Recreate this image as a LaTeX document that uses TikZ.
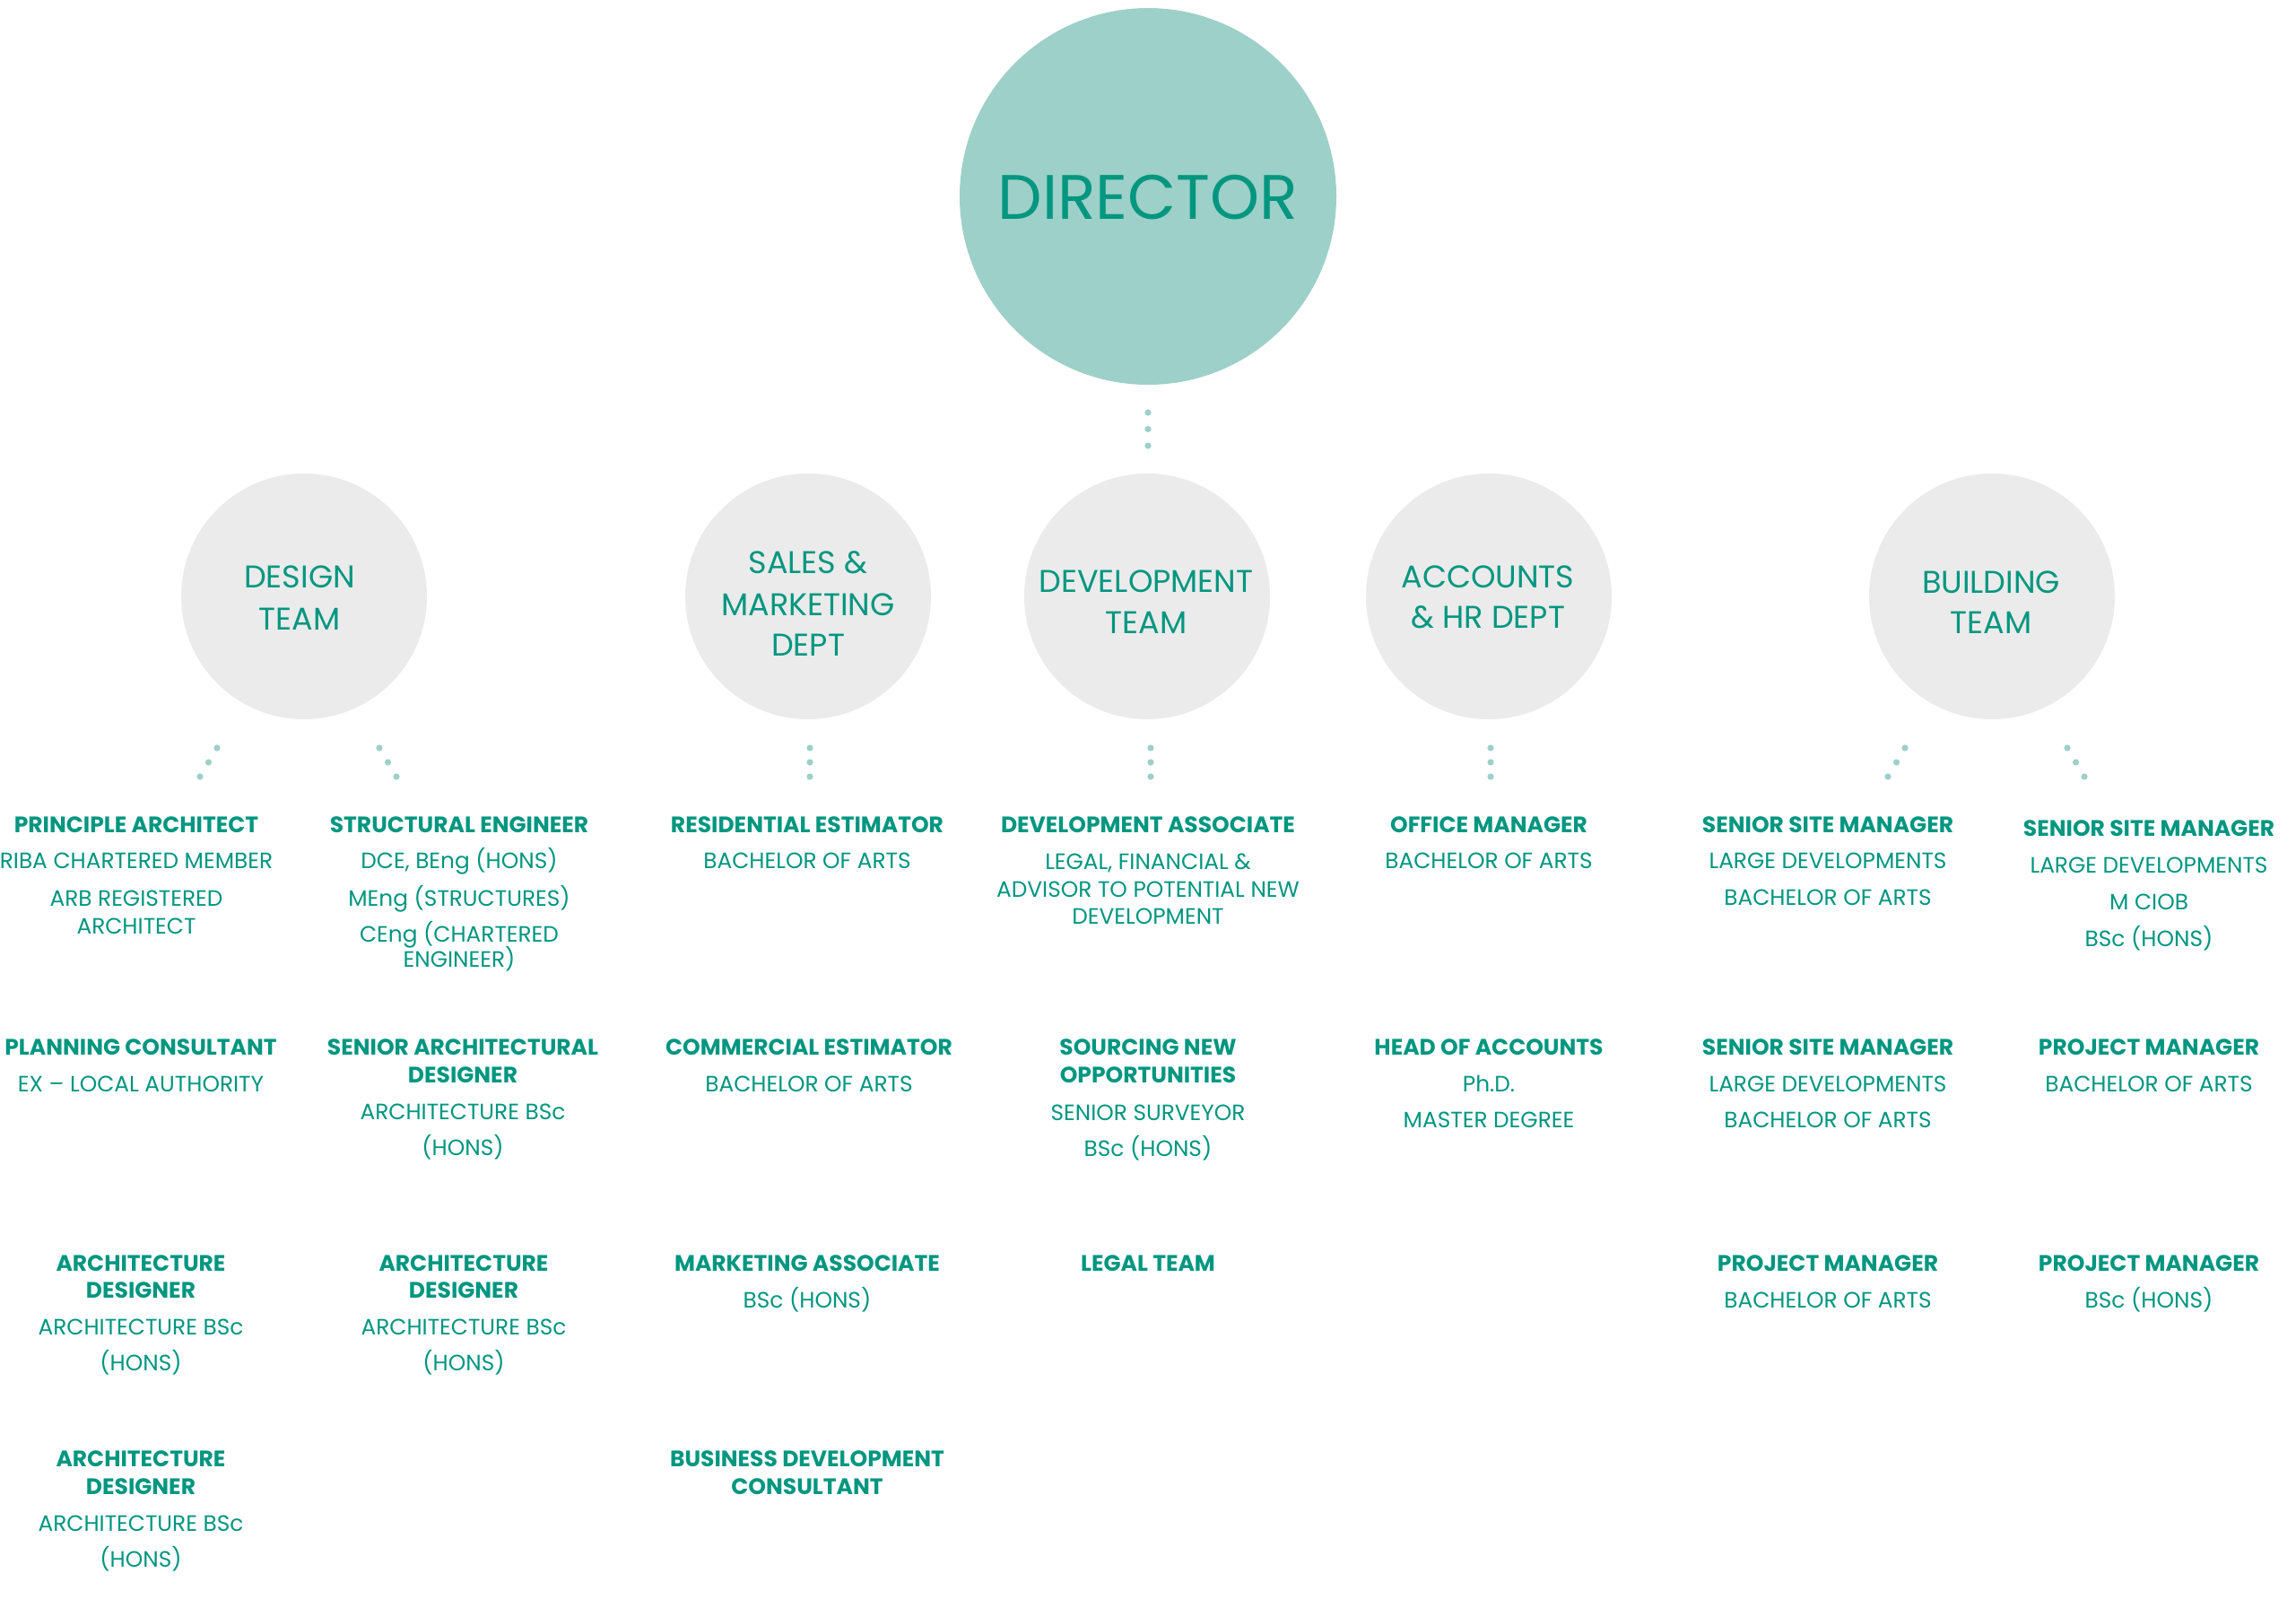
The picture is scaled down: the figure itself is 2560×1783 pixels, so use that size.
\documentclass[tikz,border=0pt]{standalone}
\usepackage{fontspec}
\setmainfont{Poppins}
\usetikzlibrary{calc}
\definecolor{teal}{RGB}{0,150,128}
\definecolor{dirfill}{RGB}{157,208,200}
\definecolor{grfill}{RGB}{235,235,235}
\definecolor{dotc}{RGB}{157,208,200}
\tikzset{
  ttl/.style={anchor=base, inner sep=0pt, text=teal, font=\fontsize{25}{30}\selectfont\bfseries},
  sub/.style={anchor=base, inner sep=0pt, text=teal, font=\fontsize{24.8}{28}\selectfont},
  ctx/.style={anchor=base, inner sep=0pt, text=teal, font=\fontsize{35}{40}\selectfont},
  dirtx/.style={anchor=base, inner sep=0pt, text=teal, font=\fontsize{70}{80}\selectfont},
  dept/.style={circle, fill=grfill, minimum size=274pt, inner sep=0pt},
  dotdot/.style={fill=dotc}
}
\newcommand\mkttl[4]{\node[ttl] (#1) at (#2,#3) {#4};}
\newcommand\mksub[4]{\node[sub] (#1) at (#2,#3) {#4};}
\newcommand\mkdots[2]{\foreach \t in {0,0.5,1} \fill[dotdot] ($(#1)!\t!(#2)$) circle (3.6pt);}
\begin{document}
\begin{tikzpicture}[x=1pt,y=-1pt]
\fill[white] (0,0) rectangle (2560,1783);
\useasboundingbox (0,0) rectangle (2560,1783);
% director
\node[circle, fill=dirfill, minimum size=420pt, inner sep=0pt] (dir) at (1280,219) {};
\node[dirtx] (dirt) at (1280,244) {DIRECTOR};
% departments
\node[dept] (design) at (339,665) {};
\node[dept] (sales) at (901,665) {};
\node[dept] (devel) at (1279,665) {};
\node[dept] (acc) at (1660,665) {};
\node[dept] (build) at (2221,665) {};
\node[ctx] (design1) at (334,655) {DESIGN};
\node[ctx] (design2) at (334,702) {TEAM};
\node[ctx] (sales1) at (901,639) {SALES \&};
\node[ctx] (sales2) at (901,686) {MARKETING};
\node[ctx] (sales3) at (901,731) {DEPT};
\node[ctx] (devel1) at (1278,660) {DEVELOPMENT};
\node[ctx] (devel2) at (1278,706) {TEAM};
\node[ctx] (acc1) at (1659,655) {ACCOUNTS};
\node[ctx] (acc2) at (1659,700) {\& HR DEPT};
\node[ctx] (build1) at (2220,661) {BUILDING};
\node[ctx] (build2) at (2220,706) {TEAM};
% dotted connectors
\coordinate (d0a) at (1280,460); \coordinate (d0b) at (1280,497);
\coordinate (d1a) at (242,834); \coordinate (d1b) at (223,866);
\coordinate (d2a) at (423,834); \coordinate (d2b) at (442,866);
\coordinate (d3a) at (903,834); \coordinate (d3b) at (903,866);
\coordinate (d4a) at (1283,834); \coordinate (d4b) at (1283,866);
\coordinate (d5a) at (1662,834); \coordinate (d5b) at (1662,866);
\coordinate (d6a) at (2124,834); \coordinate (d6b) at (2105,866);
\coordinate (d7a) at (2305,834); \coordinate (d7b) at (2324,866);
\mkdots{d0a}{d0b}
\mkdots{d1a}{d1b}
\mkdots{d2a}{d2b}
\mkdots{d3a}{d3b}
\mkdots{d4a}{d4b}
\mkdots{d5a}{d5b}
\mkdots{d6a}{d6b}
\mkdots{d7a}{d7b}
% ---- row 1
\mkttl{a1t}{152}{928}{PRINCIPLE ARCHITECT}
\mksub{a1s1}{152}{968}{RIBA CHARTERED MEMBER}
\mksub{a1s2}{152}{1010}{ARB REGISTERED}
\mksub{a1s3}{152}{1041}{ARCHITECT}
\mkttl{b1t}{512}{928}{STRUCTURAL ENGINEER}
\mksub{b1s1}{512}{968}{DCE, BEng (HONS)}
\mksub{b1s2}{512}{1010}{MEng (STRUCTURES)}
\mksub{b1s3}{512}{1050}{CEng (CHARTERED}
\mksub{b1s4}{512}{1078}{ENGINEER)}
\mkttl{c1t}{900}{928}{RESIDENTIAL ESTIMATOR}
\mksub{c1s1}{900}{968}{BACHELOR OF ARTS}
\mkttl{e1t}{1280}{928}{DEVELOPMENT ASSOCIATE}
\mksub{e1s1}{1280}{969}{LEGAL, FINANCIAL \&}
\mksub{e1s2}{1280}{1000}{ADVISOR TO POTENTIAL NEW}
\mksub{e1s3}{1280}{1030}{DEVELOPMENT}
\mkttl{f1t}{1660}{928}{OFFICE MANAGER}
\mksub{f1s1}{1660}{968}{BACHELOR OF ARTS}
\mkttl{g1t}{2038}{928}{SENIOR SITE MANAGER}
\mksub{g1s1}{2038}{968}{LARGE DEVELOPMENTS}
\mksub{g1s2}{2038}{1009}{BACHELOR OF ARTS}
\mkttl{h1t}{2396}{932}{SENIOR SITE MANAGER}
\mksub{h1s1}{2396}{973}{LARGE DEVELOPMENTS}
\mksub{h1s2}{2396}{1014}{M CIOB}
\mksub{h1s3}{2396}{1055}{BSc (HONS)}
% ---- row 2
\mkttl{a2t}{157}{1176}{PLANNING CONSULTANT}
\mksub{a2s1}{157}{1217}{EX – LOCAL AUTHORITY}
\mkttl{b2t}{516}{1176}{SENIOR ARCHITECTURAL}
\mkttl{b2t2}{516}{1207}{DESIGNER}
\mksub{b2s1}{516}{1248}{ARCHITECTURE BSc}
\mksub{b2s2}{516}{1288}{(HONS)}
\mkttl{c2t}{902}{1176}{COMMERCIAL ESTIMATOR}
\mksub{c2s1}{902}{1217}{BACHELOR OF ARTS}
\mkttl{e2t}{1280}{1176}{SOURCING NEW}
\mkttl{e2t2}{1280}{1207}{OPPORTUNITIES}
\mksub{e2s1}{1280}{1249}{SENIOR SURVEYOR}
\mksub{e2s2}{1280}{1289}{BSc (HONS)}
\mkttl{f2t}{1660}{1176}{HEAD OF ACCOUNTS}
\mksub{f2s1}{1660}{1217}{Ph.D.}
\mksub{f2s2}{1660}{1257}{MASTER DEGREE}
\mkttl{g2t}{2038}{1176}{SENIOR SITE MANAGER}
\mksub{g2s1}{2038}{1217}{LARGE DEVELOPMENTS}
\mksub{g2s2}{2038}{1257}{BACHELOR OF ARTS}
\mkttl{h2t}{2396}{1176}{PROJECT MANAGER}
\mksub{h2s1}{2396}{1217}{BACHELOR OF ARTS}
% ---- row 3
\mkttl{a3t}{157}{1417}{ARCHITECTURE}
\mkttl{a3t2}{157}{1447}{DESIGNER}
\mksub{a3s1}{157}{1488}{ARCHITECTURE BSc}
\mksub{a3s2}{157}{1528}{(HONS)}
\mkttl{b3t}{517}{1417}{ARCHITECTURE}
\mkttl{b3t2}{517}{1447}{DESIGNER}
\mksub{b3s1}{517}{1488}{ARCHITECTURE BSc}
\mksub{b3s2}{517}{1528}{(HONS)}
\mkttl{c3t}{900}{1417}{MARKETING ASSOCIATE}
\mksub{c3s1}{900}{1458}{BSc (HONS)}
\mkttl{e3t}{1280}{1417}{LEGAL TEAM}
\mkttl{g3t}{2038}{1417}{PROJECT MANAGER}
\mksub{g3s1}{2038}{1458}{BACHELOR OF ARTS}
\mkttl{h3t}{2396}{1417}{PROJECT MANAGER}
\mksub{h3s1}{2396}{1458}{BSc (HONS)}
% ---- row 4
\mkttl{a4t}{157}{1635}{ARCHITECTURE}
\mkttl{a4t2}{157}{1666}{DESIGNER}
\mksub{a4s1}{157}{1707}{ARCHITECTURE BSc}
\mksub{a4s2}{157}{1747}{(HONS)}
\mkttl{c4t}{900}{1635}{BUSINESS DEVELOPMENT}
\mkttl{c4t2}{900}{1666}{CONSULTANT}
\end{tikzpicture}
\end{document}
